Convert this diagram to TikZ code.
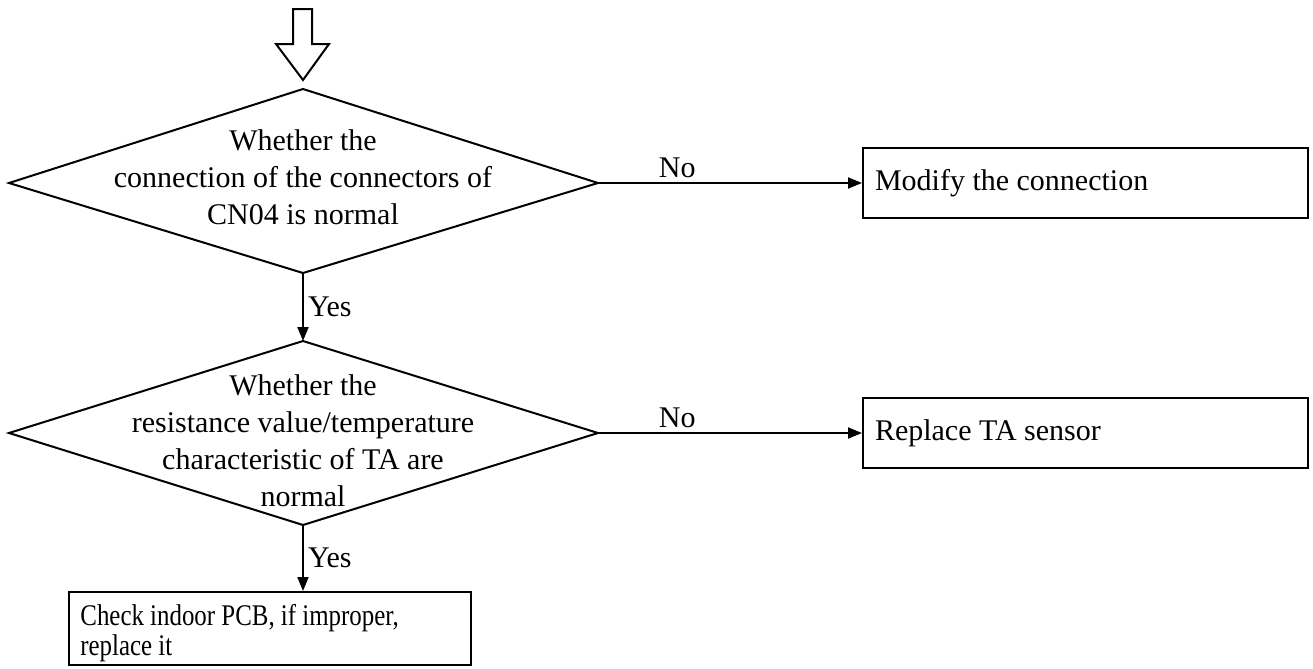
\documentclass[tikz,border=0pt]{standalone}
\usepackage{fontspec}
\setmainfont{Liberation Serif}
\newfontfamily\narrowserif[FakeStretch=0.83]{Liberation Serif}
\usetikzlibrary{arrows.meta}
\begin{document}
\begin{tikzpicture}[x=0.5pt,y=-0.5pt,
  line/.style={line width=1pt},
  flow/.style={line width=1pt, -{Triangle[length=7pt,width=5.5pt]}},
  txt/.style={font=\fontsize{15}{18.5}\selectfont, align=center, inner sep=0pt},
  lbl/.style={font=\fontsize{15}{16.5}\selectfont, inner sep=2pt},
  box/.style={draw, line width=1pt, font=\fontsize{15}{16.5}\selectfont,
    align=flush left, inner xsep=6pt, inner ysep=0pt, anchor=west}
]
\useasboundingbox (0,0) rectangle (1313,669);

% entry arrow (hollow)
\draw[line] (293,9) -- (312,9) -- (312,44) -- (329,44) -- (303,80)
  -- (276,44) -- (293,44) -- cycle;

% first decision
\coordinate (d1t) at (303,89);
\coordinate (d1b) at (303,273);
\coordinate (d1l) at (9,183);
\coordinate (d1r) at (598,183);
\draw[line] (d1t) -- (d1r) -- (d1b) -- (d1l) -- cycle;
\node[txt] (q1) at (303,177) {Whether the\\connection of the connectors of\\CN04 is normal};

% second decision
\coordinate (d2t) at (303,341);
\coordinate (d2b) at (303,525);
\coordinate (d2l) at (9,433);
\coordinate (d2r) at (598,433);
\draw[line] (d2t) -- (d2r) -- (d2b) -- (d2l) -- cycle;
\node[txt] (q2) at (303,441) {Whether the\\resistance value/temperature\\characteristic of TA are\\normal};

% outcome boxes
\node[box, text width=210.5pt, minimum height=35pt] (b1) at (862,183) {Modify the connection};
\node[box, text width=210.5pt, minimum height=35pt] (b2) at (862,433) {Replace TA sensor};
\node[box, minimum width=201pt, minimum height=36.5pt, inner sep=0pt] (b3) at (68,628.5) {};
\node[anchor=west, align=flush left, inner sep=0pt,
  font=\narrowserif\fontsize{15}{15}\selectfont] (b3text)
  at ([xshift=6pt,yshift=-2.5pt]b3.west) {Check indoor PCB, if improper,\\replace it};

% connectors
\draw[flow] (d1r) -- node[lbl, above, pos=0.3] (n1) {No} (b1.west);
\draw[flow] (d2r) -- node[lbl, above, pos=0.3] (n2) {No} (b2.west);
\draw[flow] (d1b) -- node[lbl, right, pos=0.5] (y1) {Yes} (d2t);
\draw[flow] (d2b) -- node[lbl, right, pos=0.5] (y2) {Yes} (b3.north -| d2b);
\end{tikzpicture}
\end{document}
